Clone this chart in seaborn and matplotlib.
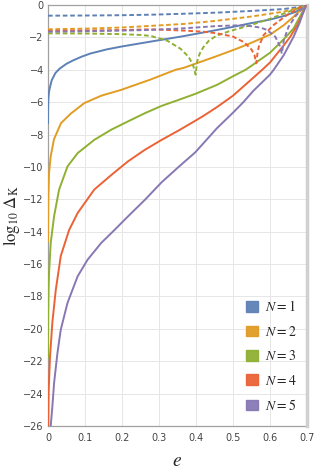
import seaborn as sns
import pandas as pd
import matplotlib.pyplot as plt
from matplotlib.patches import Patch

# solid curves (log10 Delta_K vs e)
e_n1 = [0, 0.0003, 0.001, 0.0025, 0.005, 0.01, 0.02, 0.032, 0.05, 0.068, 0.09, 0.114, 0.159, 0.2, 0.249, 0.2775,
        0.32, 0.367, 0.41, 0.457, 0.5, 0.547, 0.6, 0.637, 0.67, 0.687, 0.697]
v_n1 = [-7.3, -6.4, -5.8, -5.4, -5.1, -4.65, -4.2, -3.92, -3.63, -3.42, -3.2, -3.0, -2.74, -2.56, -2.37, -2.26,
        -2.1, -1.92, -1.74, -1.54, -1.35, -1.13, -0.9, -0.68, -0.42, -0.2, -0.05]

e_n2 = [0, 0.0004, 0.0008, 0.0027, 0.0073, 0.016, 0.035, 0.062, 0.098, 0.144, 0.198, 0.2775, 0.345, 0.367, 0.42,
        0.457, 0.51, 0.547, 0.583, 0.601, 0.637, 0.664, 0.687, 0.697]
v_n2 = [-14.6, -13.2, -12.0, -10.4, -9.35, -8.3, -7.3, -6.7, -6.06, -5.6, -5.24, -4.6, -4.0, -3.88, -3.45,
        -3.15, -2.7, -2.36, -2.0, -1.82, -1.25, -0.72, -0.22, -0.05]

e_n3 = [0, 0.0005, 0.0015, 0.0027, 0.0073, 0.0164, 0.03, 0.0527, 0.08, 0.125, 0.171, 0.216, 0.262, 0.307, 0.353,
        0.398, 0.457, 0.5, 0.534, 0.547, 0.6, 0.642, 0.664, 0.687, 0.697]
v_n3 = [-21.8, -19.2, -17.6, -16.6, -14.7, -13.05, -11.4, -9.97, -9.15, -8.33, -7.7, -7.19, -6.68, -6.23, -5.86,
        -5.49, -4.93, -4.4, -4.0, -3.8, -2.95, -2.0, -1.44, -0.45, -0.05]

e_n4 = [0, 0.0018, 0.0055, 0.0118, 0.021, 0.0345, 0.057, 0.08, 0.125, 0.171, 0.216, 0.262, 0.307, 0.353, 0.398,
        0.42, 0.457, 0.5, 0.547, 0.579, 0.6, 0.637, 0.655, 0.675, 0.69, 0.697]
v_n4 = [-27.5, -23.8, -21.7, -19.6, -17.6, -15.5, -13.9, -12.85, -11.4, -10.5, -9.66, -8.94, -8.33, -7.75, -7.15,
        -6.85, -6.3, -5.6, -4.65, -4.0, -3.55, -2.5, -1.95, -1.2, -0.45, -0.05]

e_n5 = [0.0073, 0.0118, 0.0164, 0.0255, 0.0345, 0.0527, 0.08, 0.107, 0.1436, 0.171, 0.216, 0.262, 0.307, 0.353,
        0.398, 0.457, 0.5, 0.528, 0.555, 0.6, 0.61, 0.637, 0.664, 0.68, 0.69, 0.697]
v_n5 = [-26.0, -24.8, -23.35, -21.5, -20.05, -18.4, -16.76, -15.73, -14.7, -14.09, -13.06, -12.03, -10.95, -10.0,
        -9.1, -7.6, -6.65, -6.0, -5.3, -4.3, -4.0, -3.1, -1.95, -1.1, -0.45, -0.05]

# dashed curves
ed_n1 = [0, 0.1, 0.2, 0.2775, 0.367, 0.457, 0.547, 0.637, 0.687, 0.697]
vd_n1 = [-0.66, -0.65, -0.63, -0.6, -0.54, -0.47, -0.37, -0.25, -0.1, -0.03]

ed_n2 = [0, 0.1, 0.2, 0.2775, 0.367, 0.457, 0.547, 0.637, 0.673, 0.697]
vd_n2 = [-1.5, -1.46, -1.39, -1.29, -1.17, -0.97, -0.72, -0.41, -0.2, -0.03]

ed_n3 = [0, 0.1, 0.2, 0.25, 0.2775, 0.322, 0.358, 0.38, 0.392, 0.399, 0.403, 0.41, 0.42, 0.435, 0.455, 0.49,
         0.547, 0.6, 0.646, 0.697]
vd_n3 = [-1.75, -1.76, -1.8, -1.85, -1.91, -2.2, -2.7, -3.2, -3.7, -4.3, -3.5, -3.0, -2.6, -2.2, -1.9, -1.62,
         -1.25, -0.85, -0.45, -0.03]

ed_n4 = [0, 0.2, 0.2775, 0.367, 0.42, 0.457, 0.5, 0.53, 0.55, 0.558, 0.563, 0.566, 0.57, 0.583, 0.61, 0.646,
         0.682, 0.697]
vd_n4 = [-1.6, -1.55, -1.5, -1.58, -1.65, -1.75, -1.95, -2.3, -2.75, -3.1, -3.6, -3.0, -2.55, -1.85, -1.23, -0.62,
         -0.14, -0.03]

ed_n5 = [0, 0.1, 0.2, 0.2775, 0.367, 0.457, 0.51, 0.547, 0.575, 0.592, 0.614, 0.626, 0.632, 0.637, 0.65, 0.668,
         0.687, 0.697]
vd_n5 = [-1.65, -1.62, -1.58, -1.54, -1.44, -1.3, -1.26, -1.3, -1.4, -1.54, -1.95, -2.5, -3.0, -2.2, -1.35, -0.72,
         -0.22, -0.03]

colors = ["#5E81B5", "#E19C24", "#8FB032", "#EB6235", "#8778B3"]
labels = ["$N = 1$", "$N = 2$", "$N = 3$", "$N = 4$", "$N = 5$"]

solid = [(e_n1, v_n1), (e_n2, v_n2), (e_n3, v_n3), (e_n4, v_n4), (e_n5, v_n5)]
dashed = [(ed_n1, vd_n1), (ed_n2, vd_n2), (ed_n3, vd_n3), (ed_n4, vd_n4), (ed_n5, vd_n5)]

rows = []
for i, (ee, vv) in enumerate(solid):
    for a, b in zip(ee, vv):
        rows.append({"e": a, "val": b, "N": i + 1, "kind": "solid"})
for i, (ee, vv) in enumerate(dashed):
    for a, b in zip(ee, vv):
        rows.append({"e": a, "val": b, "N": i + 1, "kind": "dashed"})
df = pd.DataFrame(rows)

sns.set_theme(style="whitegrid")
plt.rcParams["mathtext.fontset"] = "stix"
plt.rcParams["font.family"] = ["DejaVu Sans"]

fig = plt.figure(figsize=(3.15, 4.73), dpi=100)
ax = fig.add_axes([48 / 315, 1 - 426 / 473, 259 / 315, 421 / 473])

sns.lineplot(
    data=df, x="e", y="val", hue="N", style="kind",
    palette=colors, dashes={"solid": "", "dashed": (2.4, 1.4)},
    style_order=["solid", "dashed"],
    estimator=None, sort=False, legend=False, lw=1.4, zorder=3, ax=ax,
)

ax.set_xlim(0, 0.7)
ax.set_ylim(-26, 0)
ax.set_xticks([0, 0.1, 0.2, 0.3, 0.4, 0.5, 0.6, 0.7])
ax.set_xticklabels(["0", "0.1", "0.2", "0.3", "0.4", "0.5", "0.6", "0.7"])
ax.set_yticks(list(range(0, -27, -2)))
ax.set_yticklabels(["0"] + ["\u2212" + str(k) for k in range(2, 27, 2)])
ax.tick_params(labelsize=7, colors="#444444", length=0, pad=3)
ax.tick_params(axis="x", pad=5)
ax.grid(color="#e6e6e6", lw=0.7)

for s in ["left", "bottom", "top"]:
    ax.spines[s].set_color("#a0a0a0")
    ax.spines[s].set_linewidth(0.9)
    ax.spines[s].set_zorder(1)
ax.spines["right"].set_color("#d0d0d0")
ax.spines["right"].set_linewidth(2.5)

ax.set_xlabel("$e$", fontsize=14, labelpad=6)
ax.set_ylabel(r"$\log_{10}\,\Delta_{\mathrm{K}}$", fontsize=12, labelpad=1)

handles = [Patch(facecolor=c, edgecolor=c, alpha=0.95, label=l) for c, l in zip(colors, labels)]
ax.legend(handles=handles, loc="center right", bbox_to_anchor=(0.985, 0.166),
          frameon=False, fontsize=10, handlelength=0.8, handleheight=0.8,
          handletextpad=0.5, labelspacing=0.75, borderpad=0)

fig.savefig("out.png", dpi=100)
